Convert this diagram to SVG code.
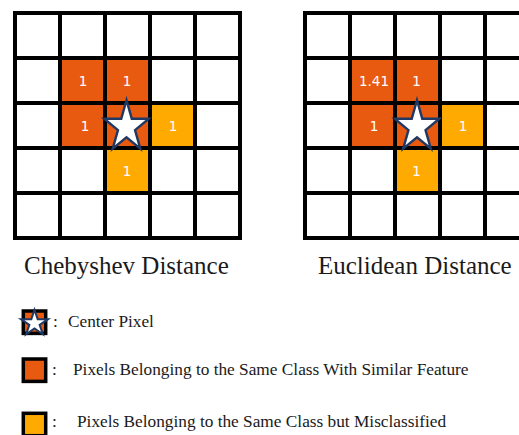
<svg xmlns="http://www.w3.org/2000/svg" width="519" height="435" viewBox="0 0 519 435">
<style>
.dk{fill:#E85A10}
.lt{fill:#FFAA00}
.grid{stroke:#000;stroke-width:4;fill:none;stroke-linecap:square}
.num{fill:#fff;font-family:"DejaVu Sans",sans-serif;font-size:13.5px;text-anchor:middle}
.title{fill:#1a1a1a;font-family:"Liberation Serif",serif;font-size:25px}
.leg{fill:#1a1a1a;font-family:"Liberation Serif",serif;font-size:17.3px}
.star{fill:#fff;stroke:#1F3864;stroke-width:2.4;stroke-linejoin:miter}
.box{stroke:#000;stroke-width:3.5}
</style>
<defs>
<path id="star" vector-effect="non-scaling-stroke" d="M0,-100 L22.45,-30.9 L95.1,-30.9 L36.33,11.8 L58.8,80.9 L0,38.2 L-58.8,80.9 L-36.33,11.8 L-95.1,-30.9 L-22.45,-30.9Z"/>
</defs>
<rect width="519" height="435" fill="#fff"/>

<g id="grid-chebyshev">
<rect class="dk" x="60" y="58" width="45" height="45"/>
<rect class="dk" x="105" y="58" width="45" height="45"/>
<rect class="dk" x="60" y="103" width="45" height="45"/>
<rect class="dk" x="105" y="103" width="45" height="45"/>
<rect class="lt" x="150" y="103" width="45" height="45"/>
<rect class="lt" x="105" y="148" width="45" height="45"/>
<path class="grid" d="M15,13H240V238H15Z M60,13V238 M105,13V238 M150,13V238 M195,13V238 M15,58H240 M15,103H240 M15,148H240 M15,193H240"/>
<use href="#star" class="star" transform="translate(126.5,127) scale(0.235,0.268)"/>
<text class="num" x="83" y="86">1</text>
<text class="num" x="127" y="86">1</text>
<text class="num" x="85" y="131">1</text>
<text class="num" x="173" y="131">1</text>
<text class="num" x="127" y="176">1</text>
</g>

<g id="grid-euclidean">
<rect class="dk" x="350" y="58" width="45" height="45"/>
<rect class="dk" x="395" y="58" width="45" height="45"/>
<rect class="dk" x="350" y="103" width="45" height="45"/>
<rect class="dk" x="395" y="103" width="45" height="45"/>
<rect class="lt" x="440" y="103" width="45" height="45"/>
<rect class="lt" x="395" y="148" width="45" height="45"/>
<path class="grid" d="M530,13H305V238H530 M350,13V238 M395,13V238 M440,13V238 M485,13V238 M305,58H530 M305,103H530 M305,148H530 M305,193H530"/>
<use href="#star" class="star" transform="translate(417,127) scale(0.235,0.268)"/>
<text class="num" x="374" y="86">1.41</text>
<text class="num" x="416.5" y="86">1</text>
<text class="num" x="374" y="131">1</text>
<text class="num" x="463" y="131">1</text>
<text class="num" x="416.5" y="176">1</text>
</g>

<g id="titles">
<text class="title" x="24" y="274">Chebyshev Distance</text>
<text class="title" x="318" y="274">Euclidean Distance</text>
</g>

<g id="legend-center">
<rect class="dk box" x="23.3" y="311" width="22.4" height="22.4"/>
<use href="#star" class="star" style="stroke-width:2" transform="translate(34.5,323.3) scale(0.142,0.135)"/>
<text class="leg" x="53" y="327">:<tspan x="68">Center Pixel</tspan></text>
</g>

<g id="legend-similar">
<rect class="dk box" x="23.3" y="359" width="22.4" height="22.4"/>
<text class="leg" x="52" y="375">:<tspan x="73">Pixels Belonging to the Same Class With Similar Feature</tspan></text>
</g>

<g id="legend-misclassified">
<rect class="lt box" x="23.3" y="413.3" width="22.4" height="22.4"/>
<text class="leg" x="52" y="427">:<tspan x="77">Pixels Belonging to the Same Class but Misclassified</tspan></text>
</g>
</svg>
